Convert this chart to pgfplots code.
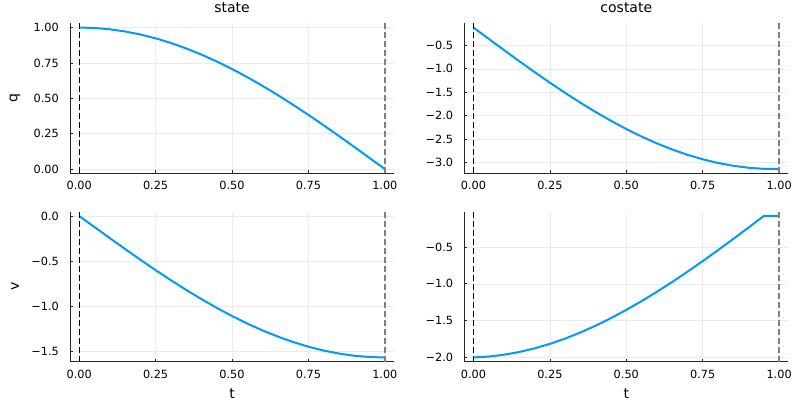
\documentclass[border=0pt]{standalone}
\usepackage{fontspec}
\setmainfont{DejaVu Sans}
\usepackage{pgfplots}
\pgfplotsset{compat=1.18}
\definecolor{jblue}{HTML}{009AFA}
\pgfplotsset{
 every axis title/.style={at={(0.5,1.0713)}, anchor=base, inner sep=0pt, font=\fontsize{14}{16}\selectfont},
 jstyle/.style={
  scale only axis, width=324pt, height=150pt, anchor=south west,
  axis lines*=left, axis line style={-, line width=0.8pt, black!85},
  tick align=inside, major tick length=3pt, tick style={black!85, line width=0.6pt},
  enlargelimits=false, xmin=-0.03, xmax=1.03,
  grid=major, grid style={black!8, line width=0.5pt},
  xtick={0,0.25,0.5,0.75,1}, xticklabels={0.00,0.25,0.50,0.75,1.00},
  ticklabel style={font=\fontsize{11.3}{13}\selectfont},
  xticklabel style={inner sep=0pt, anchor=north, yshift=-8pt},
  yticklabel style={inner sep=0pt, anchor=east, xshift=-11pt},
  label style={font=\fontsize{14}{16}\selectfont},
  xlabel style={at={(axis description cs:0.5,-0.2433)}, anchor=base, inner sep=0pt},
  ylabel style={at={(axis description cs:-0.1698,0.5)}, anchor=center, inner sep=0pt},
 },
 curve/.style={jblue, line width=2pt, no marks},
 vl0/.style={black, line width=1.1pt, dash pattern=on 6pt off 3pt, no marks},
 vl1/.style={black!50, line width=1.7pt, dash pattern=on 6pt off 3pt, no marks},
}
\begin{document}
\begin{tikzpicture}
\useasboundingbox (0,0) rectangle (800pt,400pt);
% top-left: state q
\begin{axis}[jstyle, at={(70pt,226.7pt)}, ymin=-0.03, ymax=1.03,
  ytick={0,0.25,0.5,0.75,1}, yticklabels={0.00,0.25,0.50,0.75,1.00},
  title={state}, ylabel={q}]
\addplot[curve] coordinates {(0,1)(0.05,0.99692)(0.10,0.98769)(0.15,0.97237)(0.20,0.95106)(0.25,0.92388)(0.30,0.89101)(0.35,0.85264)(0.40,0.80902)(0.45,0.76041)(0.50,0.70711)(0.55,0.64945)(0.60,0.58779)(0.65,0.52250)(0.70,0.45399)(0.75,0.38268)(0.80,0.30902)(0.85,0.23345)(0.90,0.15643)(0.95,0.07846)(1.00,0)};
\addplot[vl0] coordinates {(0,-0.03)(0,1.03)};
\addplot[vl1] coordinates {(1,-0.03)(1,1.03)};
\end{axis}
% top-right: costate
\begin{axis}[jstyle, at={(464.3pt,226.7pt)}, ymin=-3.2306, ymax=-0.0294,
  ytick={-3,-2.5,-2,-1.5,-1,-0.5}, yticklabels={−3.0,−2.5,−2.0,−1.5,−1.0,−0.5},
  title={costate}]
\addplot[curve] coordinates {(0,-0.12)(0.05,-0.3616)(0.10,-0.6017)(0.15,-0.8386)(0.20,-1.0708)(0.25,-1.2969)(0.30,-1.5153)(0.35,-1.7247)(0.40,-1.9236)(0.45,-2.1109)(0.50,-2.2855)(0.55,-2.4460)(0.60,-2.5917)(0.65,-2.7217)(0.70,-2.8352)(0.75,-2.9313)(0.80,-3.0098)(0.85,-3.0702)(0.90,-3.1121)(0.95,-3.1354)(1.00,-3.14)};
\addplot[vl0] coordinates {(0,-3.2306)(0,-0.0294)};
\addplot[vl1] coordinates {(1,-3.2306)(1,-0.0294)};
\end{axis}
% bottom-left: v
\begin{axis}[jstyle, at={(70pt,38.3pt)}, ymin=-1.6179, ymax=0.0471,
  ytick={-1.5,-1,-0.5,0}, yticklabels={−1.5,−1.0,−0.5,0.0},
  xlabel={t}, ylabel={v}]
\addplot[curve] coordinates {(0,0)(0.05,-0.1232)(0.10,-0.2457)(0.15,-0.3667)(0.20,-0.4854)(0.25,-0.6011)(0.30,-0.7131)(0.35,-0.8207)(0.40,-0.9233)(0.45,-1.0202)(0.50,-1.1107)(0.55,-1.1944)(0.60,-1.2708)(0.65,-1.3393)(0.70,-1.3996)(0.75,-1.4512)(0.80,-1.4939)(0.85,-1.5274)(0.90,-1.5515)(0.95,-1.5660)(1.00,-1.5708)};
\addplot[vl0] coordinates {(0,-1.6179)(0,0.0471)};
\addplot[vl1] coordinates {(1,-1.6179)(1,0.0471)};
\end{axis}
% bottom-right
\begin{axis}[jstyle, at={(464.3pt,38.3pt)}, ymin=-2.0576, ymax=-0.0224,
  ytick={-2,-1.5,-1,-0.5}, yticklabels={−2.0,−1.5,−1.0,−0.5},
  xlabel={t}]
\addplot[curve] coordinates {(0,-2)(0.05,-1.9878)(0.10,-1.9630)(0.15,-1.9257)(0.20,-1.8765)(0.25,-1.8157)(0.30,-1.7436)(0.35,-1.6609)(0.40,-1.5682)(0.45,-1.4659)(0.50,-1.3549)(0.55,-1.2357)(0.60,-1.1091)(0.65,-0.9758)(0.70,-0.8367)(0.75,-0.6923)(0.80,-0.5436)(0.85,-0.3915)(0.90,-0.2366)(0.95,-0.08)(1.00,-0.08)};
\addplot[vl0] coordinates {(0,-2.0576)(0,-0.0224)};
\addplot[vl1] coordinates {(1,-2.0576)(1,-0.0224)};
\end{axis}
\end{tikzpicture}
\end{document}
